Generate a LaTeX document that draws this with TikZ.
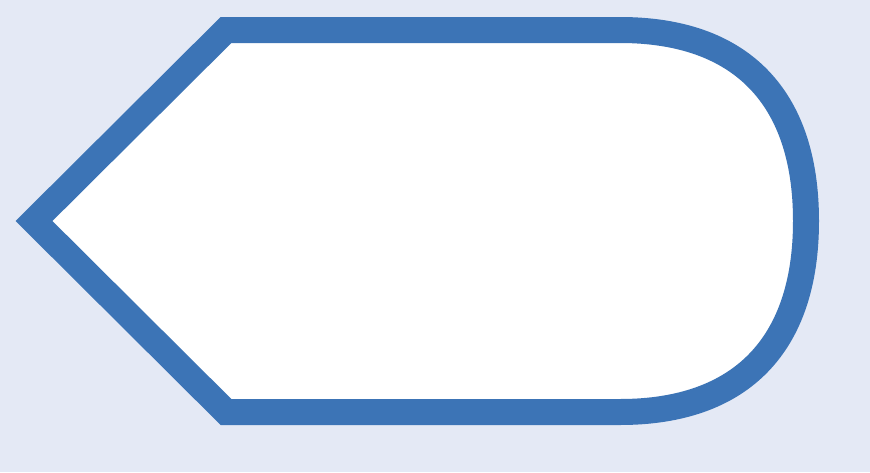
\documentclass[tikz,border=0pt]{standalone}
\usepackage{tikz}
\definecolor{bgblue}{RGB}{228,233,245}
\definecolor{lineblue}{RGB}{60,116,182}

\begin{document}
\begin{tikzpicture}[x=1pt, y=-1pt,
  display/.style={draw=lineblue, line width=26pt, fill=white, line join=miter}]
\fill [bgblue] (0,0) rectangle (870,472);
\useasboundingbox (0,0) rectangle (870,472);
% the display shape
\coordinate (tip) at (34,221);
\coordinate (topleft) at (226,30);
\coordinate (topright) at (620,30);
\coordinate (right) at (806,221);
\coordinate (bottomright) at (620,412);
\coordinate (bottomleft) at (226,412);
\draw [display] (tip) -- (topleft) -- (topright)
  .. controls (741,30) and (806,97) .. (right)
  .. controls (806,345) and (741,412) .. (bottomright)
  -- (bottomleft) -- cycle;
\end{tikzpicture}
\end{document}
